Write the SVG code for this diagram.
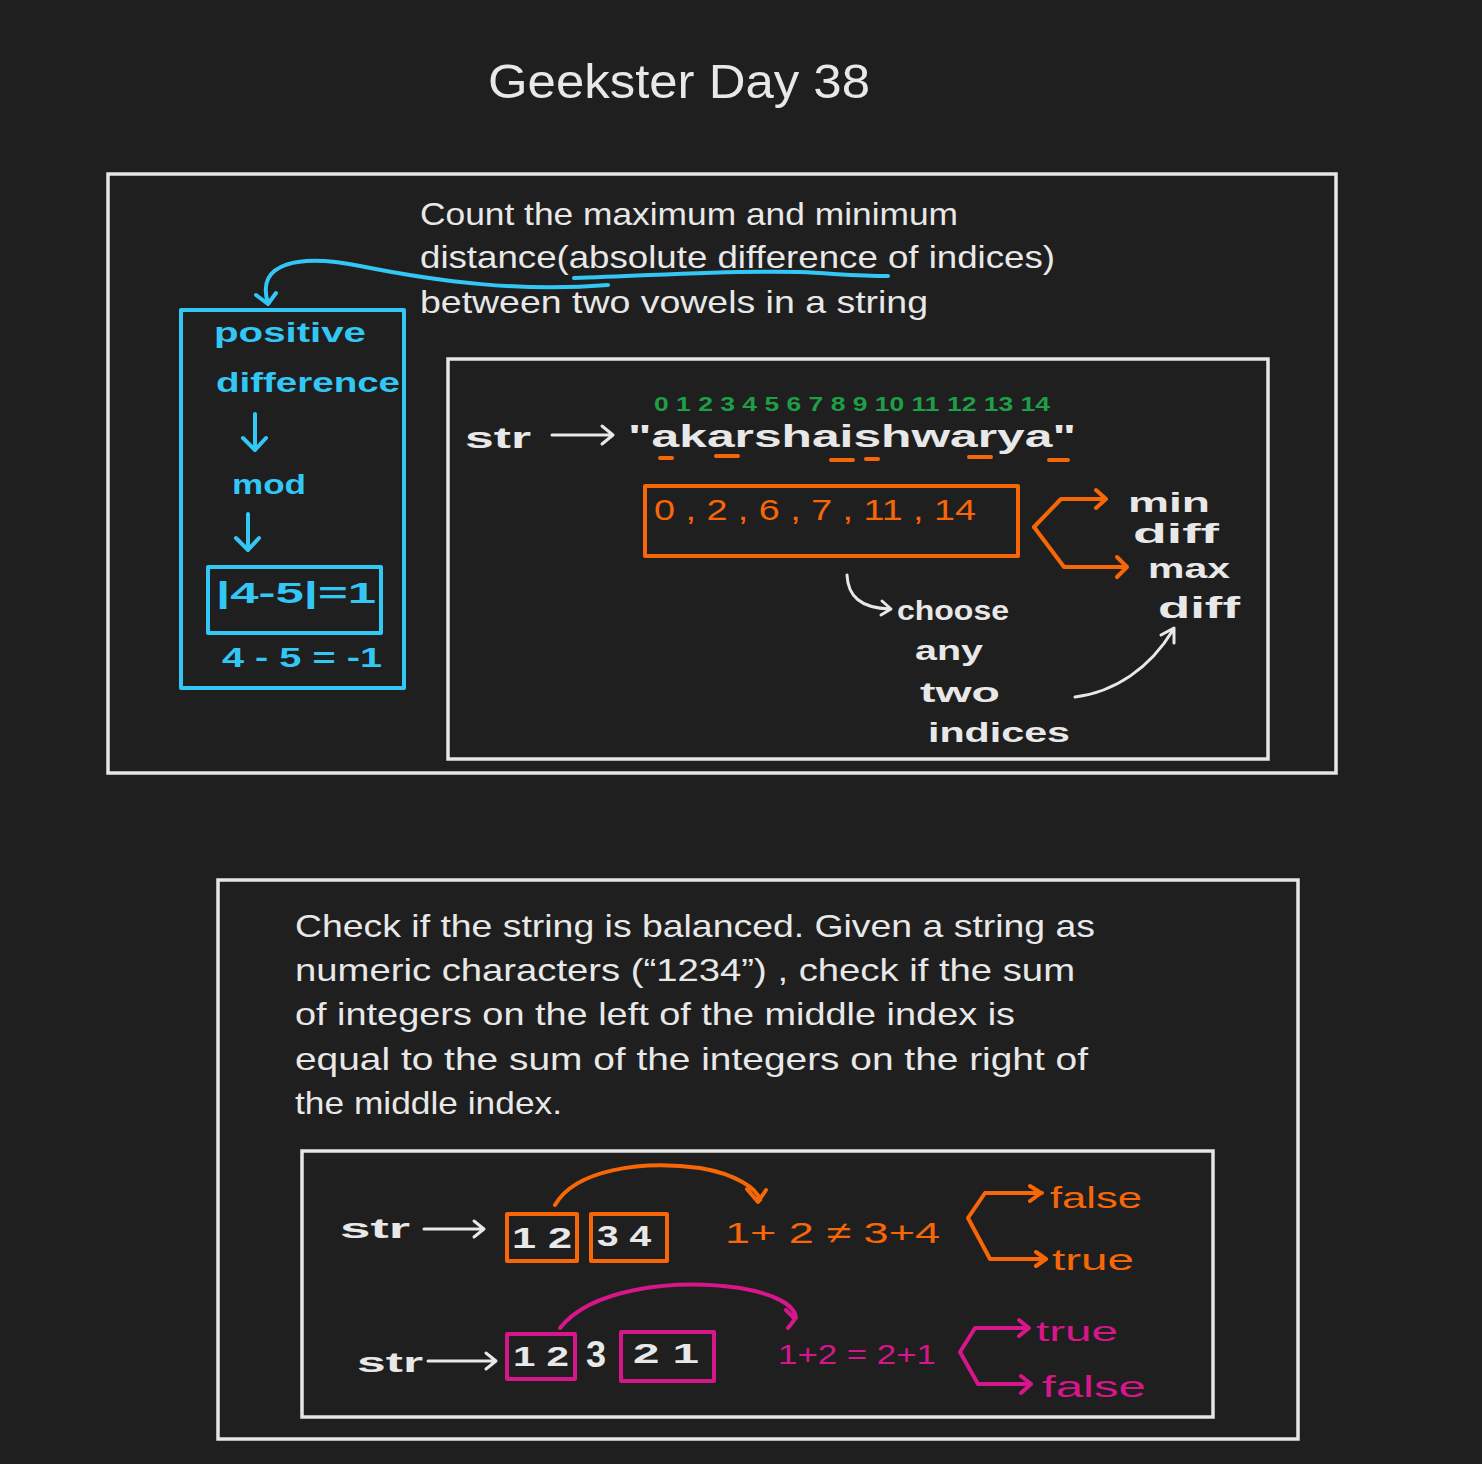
<svg xmlns="http://www.w3.org/2000/svg" width="1482" height="1464" viewBox="0 0 1482 1464">
<defs>
<style>
.t{font-family:"Liberation Sans","DejaVu Sans",sans-serif;fill:#e8e8e8}
.frame{fill:none;stroke:#e6e6e6;stroke-width:3.5}
.w{fill:none;stroke:#e8e8e8;stroke-width:3;stroke-linecap:round;stroke-linejoin:round}
.b{fill:none;stroke:#33c7f5;stroke-width:4;stroke-linecap:round;stroke-linejoin:round}
.o{fill:none;stroke:#f76707;stroke-width:4;stroke-linecap:round;stroke-linejoin:round}
.m{fill:none;stroke:#d6168a;stroke-width:4;stroke-linecap:round;stroke-linejoin:round}
.bt{font-family:"Liberation Sans","DejaVu Sans",sans-serif;fill:#33c7f5;font-weight:bold}
.ot{font-family:"Liberation Sans","DejaVu Sans",sans-serif;fill:#f76707}
.mt{font-family:"Liberation Sans","DejaVu Sans",sans-serif;fill:#d6168a}
.gt{font-family:"Liberation Sans","DejaVu Sans",sans-serif;fill:#1e9e46;font-weight:bold}
.wb{font-family:"Liberation Sans","DejaVu Sans",sans-serif;fill:#e8e8e8;font-weight:bold}
</style>
</defs>
<rect width="1482" height="1464" fill="#1f1f1f"/>
<text class="t" x="488" y="98" font-size="48" textLength="382" lengthAdjust="spacingAndGlyphs">Geekster Day 38</text>

<g id="section1">
<rect class="frame" x="108" y="174" width="1228" height="599"/>
<text class="t" x="420" y="225" font-size="32" textLength="538" lengthAdjust="spacingAndGlyphs">Count the maximum and minimum</text>
<text class="t" x="420" y="268" font-size="32" textLength="635" lengthAdjust="spacingAndGlyphs">distance(absolute difference of indices)</text>
<text class="t" x="420" y="313" font-size="32" textLength="508" lengthAdjust="spacingAndGlyphs">between two vowels in a string</text>
</g>

<g id="blue-note">
<rect class="b" x="181" y="310" width="223" height="378"/>
<text class="bt" x="214" y="342" font-size="28" textLength="152" lengthAdjust="spacingAndGlyphs">positive</text>
<text class="bt" x="216" y="392" font-size="28" textLength="184" lengthAdjust="spacingAndGlyphs">difference</text>
<text class="bt" x="232" y="494" font-size="28" textLength="74" lengthAdjust="spacingAndGlyphs">mod</text>
<rect class="b" x="208" y="567" width="173" height="66"/>
<text class="bt" x="216" y="603" font-size="30" textLength="160" lengthAdjust="spacingAndGlyphs">|4-5|=1</text>
<text class="bt" x="222" y="667" font-size="28" textLength="160" lengthAdjust="spacingAndGlyphs">4 - 5 = -1</text>
</g>

<g id="vowel-box">
<rect class="frame" x="448" y="359" width="820" height="400"/>
<text class="wb" x="465" y="448" font-size="30" textLength="66" lengthAdjust="spacingAndGlyphs">str</text>
<text class="gt" x="654" y="411" font-size="20" textLength="396" lengthAdjust="spacingAndGlyphs">0  1  2  3 4 5  6  7 8 9 10 11 12 13 14</text>
<text class="wb" x="628" y="447" font-size="32" textLength="448" lengthAdjust="spacingAndGlyphs">"akarshaishwarya"</text>
<g class="o" stroke-width="3">
<path d="M660 458 H672 M716 456 H738 M831 460 H853 M866 459 H878 M969 457 H991 M1049 460 H1068"/>
</g>
</g>

<g id="index-box">
<rect class="o" x="645" y="486" width="373" height="70"/>
<text class="ot" x="654" y="520" font-size="30" textLength="322" lengthAdjust="spacingAndGlyphs">0 , 2 , 6 , 7 , 11 , 14</text>
</g>

<g id="minmax">
<text class="wb" x="1128" y="512" font-size="28" textLength="82" lengthAdjust="spacingAndGlyphs">min</text>
<text class="wb" x="1133" y="543" font-size="28" textLength="86" lengthAdjust="spacingAndGlyphs">diff</text>
<text class="wb" x="1148" y="578" font-size="28" textLength="82" lengthAdjust="spacingAndGlyphs">max</text>
<text class="wb" x="1158" y="618" font-size="30" textLength="82" lengthAdjust="spacingAndGlyphs">diff</text>
</g>

<g id="choose">
<text class="wb" x="897" y="620" font-size="28" textLength="112" lengthAdjust="spacingAndGlyphs">choose</text>
<text class="wb" x="915" y="660" font-size="28" textLength="68" lengthAdjust="spacingAndGlyphs">any</text>
<text class="wb" x="920" y="702" font-size="28" textLength="80" lengthAdjust="spacingAndGlyphs">two</text>
<text class="wb" x="928" y="742" font-size="28" textLength="142" lengthAdjust="spacingAndGlyphs">indices</text>
</g>

<g id="section2">
<rect class="frame" x="218" y="880" width="1080" height="559"/>
<text class="t" x="295" y="937" font-size="32" textLength="800" lengthAdjust="spacingAndGlyphs">Check if the string is balanced. Given a string as</text>
<text class="t" x="295" y="981" font-size="32" textLength="780" lengthAdjust="spacingAndGlyphs">numeric characters (“1234”) , check if the sum</text>
<text class="t" x="295" y="1025" font-size="32" textLength="720" lengthAdjust="spacingAndGlyphs">of integers on the left of the middle index is</text>
<text class="t" x="295" y="1070" font-size="32" textLength="793" lengthAdjust="spacingAndGlyphs">equal to the sum of the integers on the right of</text>
<text class="t" x="295" y="1114" font-size="32" textLength="267" lengthAdjust="spacingAndGlyphs">the middle index.</text>
<rect class="frame" x="302" y="1151" width="911" height="266"/>
</g>

<g id="row1">
<text class="wb" x="340" y="1238" font-size="28" textLength="70" lengthAdjust="spacingAndGlyphs">str</text>
<rect class="o" x="507" y="1214" width="70" height="47"/>
<rect class="o" x="591" y="1214" width="76" height="47"/>
<text class="wb" x="512" y="1248" font-size="30" textLength="60" lengthAdjust="spacingAndGlyphs">1  2</text>
<text class="wb" x="597" y="1246" font-size="30" textLength="54" lengthAdjust="spacingAndGlyphs">3 4</text>
<text class="ot" x="725" y="1243" font-size="30" textLength="215" lengthAdjust="spacingAndGlyphs">1+ 2  ≠  3+4</text>
<text class="ot" x="1050" y="1208" font-size="30" textLength="92" lengthAdjust="spacingAndGlyphs">false</text>
<text class="ot" x="1052" y="1270" font-size="30" textLength="82" lengthAdjust="spacingAndGlyphs">true</text>
</g>

<g id="row2">
<text class="wb" x="357" y="1372" font-size="28" textLength="66" lengthAdjust="spacingAndGlyphs">str</text>
<rect class="m" x="507" y="1334" width="68" height="45"/>
<rect class="m" x="621" y="1332" width="93" height="49"/>
<text class="wb" x="513" y="1366" font-size="28" textLength="56" lengthAdjust="spacingAndGlyphs">1 2</text>
<text class="wb" x="586" y="1367" font-size="36">3</text>
<text class="wb" x="633" y="1363" font-size="28" textLength="66" lengthAdjust="spacingAndGlyphs">2  1</text>
<text class="mt" x="778" y="1364" font-size="28" textLength="158" lengthAdjust="spacingAndGlyphs">1+2 = 2+1</text>
<text class="mt" x="1036" y="1341" font-size="28" textLength="82" lengthAdjust="spacingAndGlyphs">true</text>
<text class="mt" x="1042" y="1397" font-size="30" textLength="104" lengthAdjust="spacingAndGlyphs">false</text>
</g>

<g id="connectors">
<path class="b" d="M574 278 C650 276 720 270 800 272 C840 274 860 276 888 276" stroke-width="3"/>
<path class="b" d="M608 285 C520 292 440 282 360 266 C300 254 255 262 268 303" stroke-width="3"/>
<path class="b" d="M256 295 L268 304 L276 293" stroke-width="3"/>
<path class="b" d="M255 414 V450 M243 438 L255 450 L266 438"/>
<path class="b" d="M248 514 V550 M236 538 L248 550 L259 538"/>
<path class="w" d="M552 435 H612 M602 426 L613 435 L602 444"/>
<path class="o" d="M1034 527 L1061 499 H1104 M1096 490 L1106 499 L1096 508" stroke-width="3.5"/>
<path class="o" d="M1034 527 L1064 567 H1126 M1117 557 L1127 567 L1117 577" stroke-width="3.5"/>
<path class="w" d="M847 575 C848 596 860 608 890 609 M882 601 L891 609 L881 615"/>
<path class="w" d="M1075 697 C1115 692 1150 668 1173 630 M1161 635 L1174 628 L1174 643"/>
<path class="w" d="M424 1229 H483 M474 1221 L484 1229 L474 1237"/>
<path class="o" d="M555 1205 C575 1170 640 1160 700 1168 C735 1174 757 1188 760 1200 M747 1189 L758 1202 L766 1190" stroke-width="3"/>
<path class="o" d="M1042 1193 H985 L968 1218 L990 1259 H1045 M1030 1186 L1041 1193 L1030 1201 M1036 1252 L1046 1259 L1036 1266" stroke-width="3"/>
<path class="w" d="M428 1361 H495 M486 1353 L496 1361 L486 1369"/>
<path class="m" d="M560 1328 C590 1290 670 1278 740 1288 C775 1294 795 1305 796 1318 M786 1310 L795 1319 L788 1328" stroke-width="3"/>
<path class="m" d="M1028 1328 H975 L960 1352 L978 1384 H1030 M1019 1320 L1029 1328 L1019 1336 M1021 1376 L1031 1384 L1021 1393" stroke-width="3"/>
</g>
</svg>
